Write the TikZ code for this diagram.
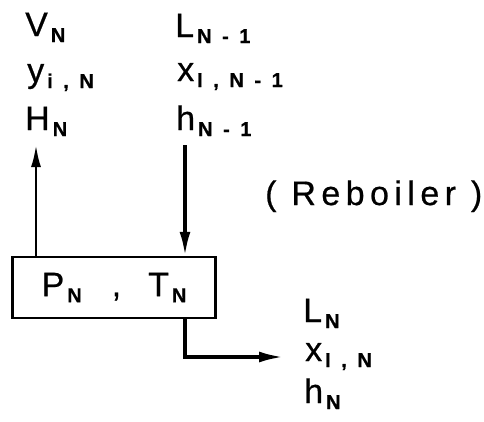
\documentclass[tikz,border=0pt]{standalone}
\usepackage{fontspec}
\setmainfont{Liberation Sans}
\newfontfamily\lett[FakeBold=0.6]{Liberation Sans}
\usetikzlibrary{arrows.meta}
\newcommand\mysub[1]{\hspace{3pt}\raisebox{-6pt}{\fontsize{20}{20}\selectfont\bfseries\addfontfeature{LetterSpace=25}#1}}
\begin{document}
\begin{tikzpicture}[x=1pt,y=1pt,
  lbl/.style={anchor=base west,inner sep=0pt,font=\lett\fontsize{34}{34}\selectfont},
  boxst/.style={draw,line width=2.4pt,minimum width=203pt,minimum height=61pt,inner sep=0pt,font=\lett\fontsize{34}{34}\selectfont},
  flow/.style={line width=2.5pt,-{Latex[length=22pt,width=10pt]}},
  flowthick/.style={line width=3.2pt,-{Latex[length=24pt,width=11pt]}}]
\useasboundingbox (0,0) rectangle (484,-421);
% left column
\node[lbl] (vn) at (25,-36) {V\mysub{N}};
\node[lbl] (yn) at (27,-82) {y\mysub{i , N}};
\node[lbl] (hn) at (25,-130) {H\mysub{N}};
% middle column
\node[lbl] (ln1) at (175,-37) {L\mysub{N - 1}};
\node[lbl] (xn1) at (177,-81) {x\mysub{I , N - 1}};
\node[lbl] (hn1) at (176,-130) {h\mysub{N - 1}};
% reboiler
\node[lbl] (reb) at (265,-205) {\addfontfeature{LetterSpace=16}( Reboiler )};
% box
\node[boxst] (box) at (114,-287.5) {P\mysub{N}\hspace{30pt},\hspace{27pt}T\mysub{N}};
% right column
\node[lbl] (ln) at (303,-322) {L\mysub{N}};
\node[lbl] (xn) at (305,-361) {x\mysub{I , N}};
\node[lbl] (hnn) at (304,-403) {h\mysub{N}};
% connectors
\coordinate (vtip) at (36,-145);
\coordinate (lstart) at (185,-145);
\coordinate (outtip) at (283,-357);
\draw[flow] (box.north -| vtip) -- (vtip);
\draw[flowthick] (lstart) -- (lstart |- box.north);
\draw[flowthick] (lstart |- box.south) |- (outtip);
\end{tikzpicture}
\end{document}
